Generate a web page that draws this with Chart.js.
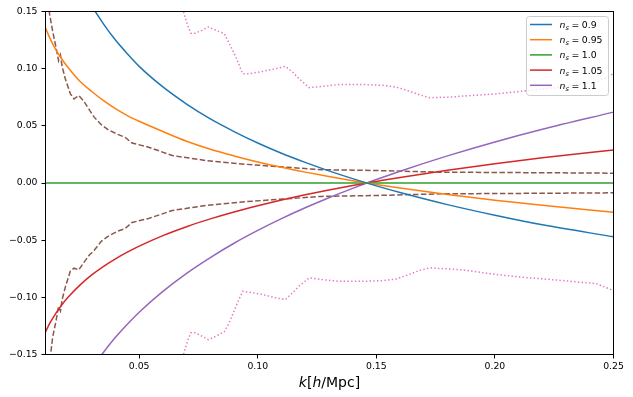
<!DOCTYPE html>
<html><head><meta charset="utf-8">
<script src="https://cdn.jsdelivr.net/npm/chart.js@4"></script>
<style>html,body{margin:0;padding:0;background:#fff}canvas{display:block}</style>
</head><body>
<canvas id="c" width="633" height="397"></canvas>
<script>
// ---- data ----
const kGrid = [0.0102, 0.0125, 0.015, 0.0175, 0.02, 0.025, 0.03, 0.035, 0.04, 0.045, 0.05, 0.06, 0.07, 0.08, 0.09, 0.10, 0.11, 0.12, 0.13, 0.14, 0.15, 0.16, 0.18, 0.20, 0.22, 0.25];
const ns090 = [0.274, 0.251, 0.230, 0.213, 0.198, 0.174, 0.155, 0.139, 0.125, 0.113, 0.102, 0.084, 0.069, 0.056, 0.045, 0.035, 0.026, 0.018, 0.0106, 0.0038, -0.0025, -0.0083, -0.0189, -0.0282, -0.0366, -0.047];
const ns095 = [0.137, 0.126, 0.116, 0.108, 0.101, 0.089, 0.080, 0.072, 0.065, 0.059, 0.054, 0.045, 0.0365, 0.0295, 0.0237, 0.0184, 0.0137, 0.0095, 0.0056, 0.002, -0.0013, -0.0044, -0.010, -0.015, -0.0195, -0.0255];
const ns100 = [0, 0, 0, 0, 0, 0, 0, 0, 0, 0, 0, 0, 0, 0, 0, 0, 0, 0, 0, 0, 0, 0, 0, 0, 0, 0];
const ns105 = [-0.1315, -0.122, -0.1136, -0.1063, -0.100, -0.0893, -0.0804, -0.0729, -0.0663, -0.0605, -0.0552, -0.046, -0.0382, -0.0314, -0.0253, -0.0199, -0.0149, -0.0103, -0.0061, -0.0022, 0.0014, 0.0049, 0.0112, 0.0168, 0.022, 0.0289];
const ns110 = [-0.258, -0.241, -0.225, -0.2115, -0.1996, -0.179, -0.162, -0.148, -0.135, -0.1235, -0.113, -0.0948, -0.079, -0.0652, -0.0527, -0.0415, -0.0312, -0.0217, -0.0129, -0.0047, 0.003, 0.0103, 0.0237, 0.0359, 0.047, 0.062];

const brownK = [0.0115, 0.0122, 0.0135, 0.015, 0.016, 0.0168, 0.0175, 0.019, 0.021, 0.0225, 0.0245, 0.0265, 0.029, 0.031, 0.034, 0.037, 0.041, 0.044, 0.047, 0.054, 0.064, 0.078, 0.092, 0.106, 0.127, 0.148, 0.177, 0.25];
const brownUpper = [0.165, 0.148, 0.133, 0.118, 0.107, 0.112, 0.102, 0.090, 0.078, 0.0735, 0.0765, 0.072, 0.064, 0.0576, 0.051, 0.0465, 0.0425, 0.040, 0.035, 0.0313, 0.024, 0.0197, 0.0168, 0.0147, 0.0116, 0.011, 0.0095, 0.0086];
const brownLower = [-0.175, -0.158, -0.135, -0.12, -0.108, -0.112, -0.102, -0.090, -0.077, -0.0745, -0.076, -0.070, -0.063, -0.059, -0.051, -0.0465, -0.042, -0.040, -0.0345, -0.031, -0.024, -0.0197, -0.0168, -0.0147, -0.0117, -0.011, -0.0095, -0.0086];

const pinkK = [0.066, 0.0687, 0.0704, 0.0718, 0.0735, 0.0765, 0.0792, 0.0824, 0.0859, 0.088, 0.0908, 0.0936, 0.0964, 0.102, 0.1077, 0.1116, 0.1147, 0.1175, 0.1217, 0.1273, 0.1344, 0.1442, 0.1527, 0.1583, 0.1639, 0.1681, 0.1724, 0.1808, 0.1864, 0.2005, 0.2146, 0.2258, 0.2427, 0.25];
const pinkUpper = [0.175, 0.15, 0.138, 0.131, 0.131, 0.1335, 0.1364, 0.1335, 0.1306, 0.122, 0.110, 0.0956, 0.0956, 0.0976, 0.100, 0.102, 0.097, 0.091, 0.0834, 0.0845, 0.0862, 0.0862, 0.0854, 0.0839, 0.0804, 0.0772, 0.0746, 0.0751, 0.076, 0.078, 0.081, 0.0835, 0.088, 0.0956];
const pinkLower = [-0.175, -0.15, -0.138, -0.131, -0.131, -0.134, -0.137, -0.134, -0.130, -0.122, -0.108, -0.0947, -0.0955, -0.0975, -0.1005, -0.102, -0.096, -0.090, -0.083, -0.0845, -0.086, -0.086, -0.0854, -0.084, -0.080, -0.0765, -0.0743, -0.0752, -0.076, -0.080, -0.083, -0.0848, -0.088, -0.094];

const seriesNames = ['0.9', '0.95', '1.0', '1.05', '1.1'];
const xTicks = [0.05, 0.10, 0.15, 0.20, 0.25];
const xTickLabels = ['0.05', '0.10', '0.15', '0.20', '0.25'];
const yTicks = [-0.15, -0.10, -0.05, 0.00, 0.05, 0.10, 0.15];
const yTickLabels = ['\u22120.15', '\u22120.10', '\u22120.05', '0.00', '0.05', '0.10', '0.15'];

// ---- styling ----
const colors = ['#1f77b4', '#ff7f0e', '#2ca02c', '#d62728', '#9467bd'];
const brown = '#8c564b', pink = '#e377c2';
const toPts = (xs, ys) => xs.map((x, i) => ({x: x, y: ys[i]}));

const mainSeries = [ns090, ns095, ns100, ns105, ns110];
const datasets = [];
mainSeries.forEach((s, i) => datasets.push({
  data: toPts(kGrid, s), borderColor: colors[i], borderWidth: 1.5,
  pointRadius: 0, cubicInterpolationMode: 'monotone', fill: false
}));
[brownUpper, brownLower].forEach(s => datasets.push({
  data: toPts(brownK, s), borderColor: brown, borderWidth: 1.5, borderDash: [5.5, 2.4],
  pointRadius: 0, tension: 0, fill: false
}));
[pinkUpper, pinkLower].forEach(s => datasets.push({
  data: toPts(pinkK, s), borderColor: pink, borderWidth: 1.5, borderDash: [1.4, 2.3],
  pointRadius: 0, tension: 0, fill: false
}));

const FONT = '"DejaVu Sans", sans-serif';

const decor = {
  id: 'decor',
  afterDatasetsDraw(chart) {
    const {ctx, chartArea: a} = chart;
    ctx.save();
    ctx.strokeStyle = '#000'; ctx.lineWidth = 1;
    ctx.strokeRect(a.left, a.top, a.right - a.left, a.bottom - a.top);
    ctx.restore();
  },
  afterDraw(chart) {
    const ctx = chart.ctx;
    ctx.save();
    // legend box
    const lx = 526.5, ly = 16.5, lw = 82, lh = 79, r = 3;
    ctx.beginPath();
    ctx.moveTo(lx + r, ly);
    ctx.arcTo(lx + lw, ly, lx + lw, ly + lh, r);
    ctx.arcTo(lx + lw, ly + lh, lx, ly + lh, r);
    ctx.arcTo(lx, ly + lh, lx, ly, r);
    ctx.arcTo(lx, ly, lx + lw, ly, r);
    ctx.closePath();
    ctx.fillStyle = 'rgba(255,255,255,0.8)';
    ctx.fill();
    ctx.strokeStyle = '#cccccc'; ctx.lineWidth = 1;
    ctx.stroke();
    for (let i = 0; i < seriesNames.length; i++) {
      const y = 24.5 + i * 15.2;
      ctx.strokeStyle = colors[i]; ctx.lineWidth = 1.5;
      ctx.beginPath(); ctx.moveTo(530, y); ctx.lineTo(552, y); ctx.stroke();
      ctx.fillStyle = '#000';
      ctx.textBaseline = 'alphabetic';
      let x = 559.5;
      const base = y + 3.4;
      ctx.font = 'italic 9.3px ' + FONT;
      ctx.fillText('n', x, base); x += ctx.measureText('n').width;
      ctx.font = 'italic 6.6px ' + FONT;
      ctx.fillText('s', x, base + 2.0); x += ctx.measureText('s').width + 2.6;
      ctx.font = '9.3px ' + FONT;
      ctx.fillText('=', x, base); x += ctx.measureText('=').width + 2.6;
      ctx.fillText(seriesNames[i], x, base);
    }
    // x-axis label  k[h/Mpc]
    const parts = [['k', true], ['[', false], ['h', true], ['/Mpc]', false]];
    const fs = 14;
    let total = 0;
    parts.forEach(p => { ctx.font = (p[1] ? 'italic ' : '') + fs + 'px ' + FONT; total += ctx.measureText(p[0]).width; });
    const a = chart.chartArea;
    let x = (a.left + a.right) / 2 - total / 2;
    ctx.fillStyle = '#000';
    parts.forEach(p => {
      ctx.font = (p[1] ? 'italic ' : '') + fs + 'px ' + FONT;
      ctx.fillText(p[0], x, 386.5);
      x += ctx.measureText(p[0]).width;
    });
    ctx.restore();
  }
};

new Chart(document.getElementById('c'), {
  type: 'line',
  data: {datasets: datasets},
  plugins: [decor],
  options: {
    responsive: false, animation: false,
    layout: {padding: {top: 11.5, right: 19.5, left: 0, bottom: 0}},
    plugins: {legend: {display: false}, tooltip: {enabled: false}},
    scales: {
      x: {
        type: 'linear', min: 0.0105, max: 0.25,
        afterBuildTicks: s => { s.ticks = xTicks.map(v => ({value: v})); },
        afterFit: s => { s.height = 42.5; },
        border: {display: false},
        grid: {display: true, drawOnChartArea: false, drawTicks: true, tickLength: 4, tickColor: '#000', color: '#000'},
        ticks: {
          padding: 3, color: '#000', font: {family: FONT, size: 9.3}, maxRotation: 0, autoSkip: false,
          callback: (v) => { const i = xTicks.findIndex(t => Math.abs(t - v) < 1e-9); return i >= 0 ? xTickLabels[i] : ''; }
        }
      },
      y: {
        type: 'linear', min: -0.15, max: 0.15,
        afterBuildTicks: s => { s.ticks = yTicks.map(v => ({value: v})); },
        afterFit: s => { s.width = 45.5; },
        border: {display: false},
        grid: {display: true, drawOnChartArea: false, drawTicks: true, tickLength: 4, tickColor: '#000', color: '#000'},
        ticks: {
          padding: 4, color: '#000', font: {family: FONT, size: 9.3}, autoSkip: false,
          callback: (v) => { const i = yTicks.findIndex(t => Math.abs(t - v) < 1e-9); return i >= 0 ? yTickLabels[i] : ''; }
        }
      }
    }
  }
});
</script>
</body></html>
